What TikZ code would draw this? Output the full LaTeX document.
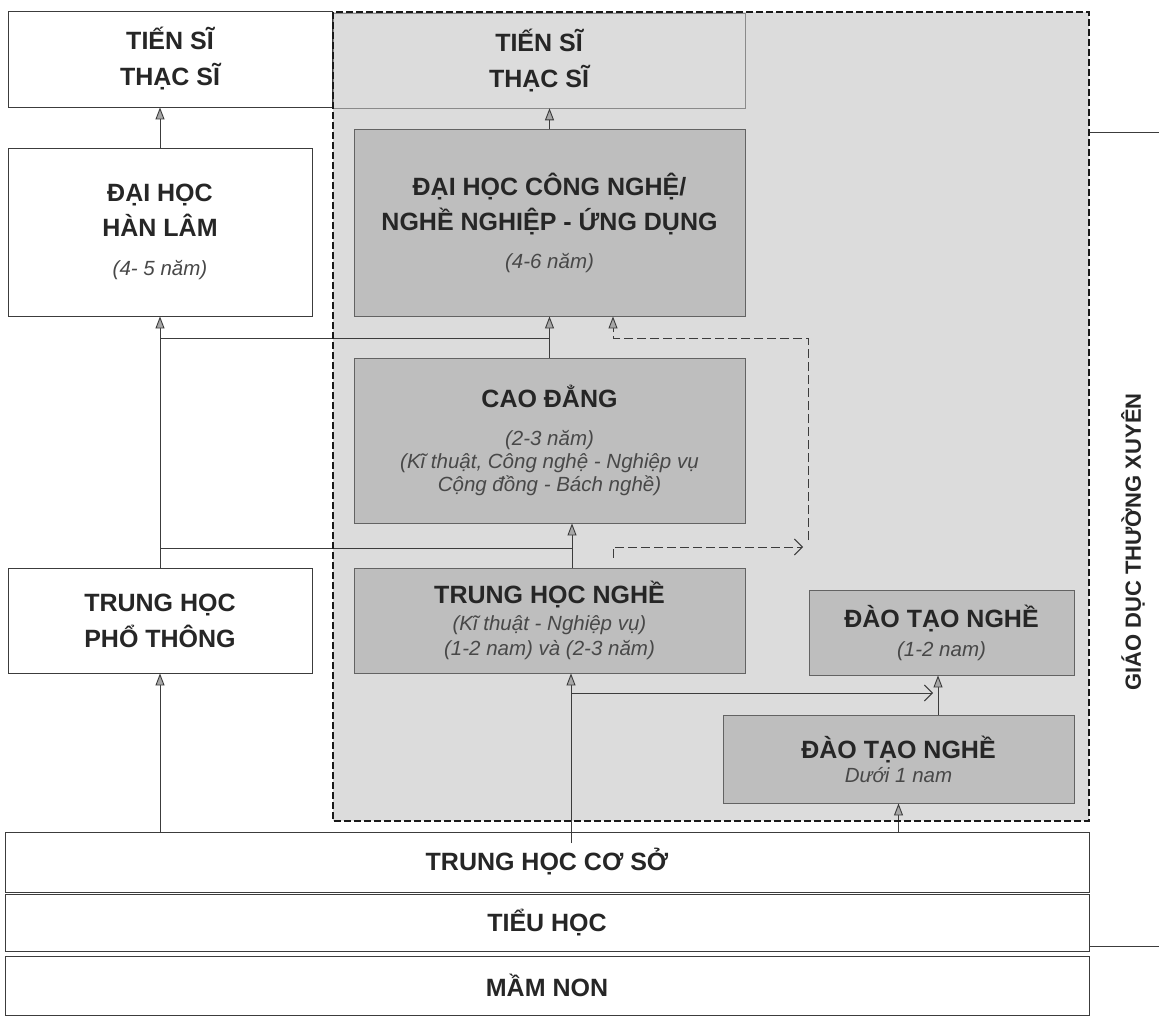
\documentclass[tikz,border=0pt]{standalone}
\usepackage{fontspec}
\setmainfont{Liberation Sans}
\usetikzlibrary{arrows.meta}
\definecolor{linegray}{HTML}{3C3C3C}
\definecolor{textgray}{HTML}{262626}
\definecolor{notegray}{HTML}{484848}
\definecolor{zonegray}{HTML}{DCDCDC}
\definecolor{boxgray}{HTML}{BEBEBE}
\newcommand{\lvl}{\fontsize{25}{35}\selectfont\bfseries}
\newcommand{\yrs}{\fontsize{20.5}{23}\selectfont\mdseries\itshape\color{notegray}}

\begin{document}
\begin{tikzpicture}[x=1pt, y=-1pt, line width=0.9pt,
  level/.style={draw=linegray, fill=white, align=center, inner sep=0pt, text=textgray, font=\lvl},
  voc/.style={level, fill=boxgray, draw=linegray!80},
  uparr/.style={linegray, -{Triangle[length=12pt,width=9pt,fill=linegray!45]}},
  barb/.style={linegray, -{Straight Barb[length=8pt,width=16pt]}},
  dashbarb/.style={barb, dash pattern=on 9pt off 4pt},
  zone/.style={draw=black!90, line width=1.5pt, dash pattern=on 7pt off 3pt}]
  \useasboundingbox (0,0) rectangle (1159,1016);

  \fill[zonegray] (333,12) rectangle (1089,821);

  \node[level, minimum width=324pt, minimum height=96pt] (tsL) at (170,59) {TIẾN SĨ\\[1pt]THẠC SĨ};
  \node[level, minimum width=304pt, minimum height=168pt] (dhhl) at (160,232) {ĐẠI HỌC\\HÀN LÂM\\[4pt]{\yrs (4- 5 năm)}};
  \node[level, minimum width=304pt, minimum height=105pt] (ptth) at (160,620.5) {TRUNG HỌC\\[1pt]PHỔ THÔNG};

  \node[level, fill=zonegray, draw=linegray!60, line width=0.6pt, minimum width=412pt, minimum height=95pt] (tsR) at (539,60.5) {TIẾN SĨ\\[1pt]THẠC SĨ};
  \node[voc, minimum width=391pt, minimum height=187pt] (dhcn) at (549.5,222.5) {ĐẠI HỌC CÔNG NGHỆ/\\NGHỀ NGHIỆP - ỨNG DỤNG\\[3pt]{\yrs (4-6 năm)}};
  \node[voc, minimum width=391pt, minimum height=165pt] (cd) at (549.5,440.5) {CAO ĐẲNG\\[3pt]{\yrs (2-3 năm)}\\[-12pt]{\yrs (Kĩ thuật, Công nghệ - Nghiệp vụ}\\[-12pt]{\yrs Cộng đồng - Bách nghề)}};
  \node[voc, minimum width=391pt, minimum height=105pt] (thn) at (549.5,620.5) {TRUNG HỌC NGHỀ\\[-8pt]{\yrs (Kĩ thuật - Nghiệp vụ)}\\[-10pt]{\yrs (1-2 nam) và (2-3 năm)}};
  \node[voc, minimum width=265pt, minimum height=85pt] (dtn12) at (941.5,632.5) {ĐÀO TẠO NGHỀ\\[-6pt]{\yrs (1-2 nam)}};
  \node[voc, minimum width=351pt, minimum height=88pt] (dtn1) at (898.5,759) {ĐÀO TẠO NGHỀ\\[-11pt]{\yrs Dưới 1 nam}};

  \node[level, minimum width=1084pt, minimum height=60pt] (thcs) at (547,862) {TRUNG HỌC CƠ SỞ};
  \node[level, minimum width=1084pt, minimum height=57pt] (tieuhoc) at (547,922.5) {TIỂU HỌC};
  \node[level, minimum width=1084pt, minimum height=59pt] (mamnon) at (547,985.5) {MẦM NON};

  \node[rotate=90, font=\fontsize{22}{26}\selectfont\bfseries, text=textgray] (gdtx) at (1133,542) {GIÁO DỤC THƯỜNG XUYÊN};
  \draw[linegray, line width=0.7pt] (1159,132) -- (1089,132) (1089,946) -- (1159,946);

  \coordinate (hl1) at (160,338);
  \coordinate (hl2) at (160,548);
  \coordinate (thnup) at (572,548);
  \coordinate (dcorner) at (808,547);
  \coordinate (thcsup) at (571,843);
  \coordinate (split) at (571,693);
  \coordinate (splitend) at (933,693);

  \draw[uparr] (dhhl.north) -- (dhhl.north |- tsL.south);
  \draw[uparr] (thcs.north -| ptth.south) -- (ptth.south);
  \draw[uparr] (ptth.north) -- (dhhl.south);
  \draw[linegray] (hl1) -- (hl1 -| cd.north);
  \draw[linegray] (hl2) -- (thnup);
  \draw[uparr] (cd.north) -- (dhcn.south);
  \draw[uparr] (dhcn.north) -- (dhcn.north |- tsR.south);
  \draw[uparr] (thnup |- thn.north) -- (thnup |- cd.south);

  \draw[dashbarb] ([xshift=63.5pt,yshift=10pt]thn.north) |- ([xshift=-5pt]dcorner);
  \draw[dashbarb, -{Triangle[length=12pt,width=9pt,fill=linegray!45]}] ([yshift=7pt]dcorner) -- (dcorner |- hl1) -| ([xshift=63.5pt]dhcn.south);

  \draw[uparr] (thcsup) -- (thcsup |- thn.south);
  \draw[barb] (split) -- (splitend);
  \draw[uparr] ([xshift=-3.5pt]dtn12.south |- dtn1.north) -- ([xshift=-3.5pt]dtn12.south);
  \draw[uparr] (thcs.north -| dtn1.south) -- (dtn1.south);

  \draw[zone] (333,12) rectangle (1089,821);
\end{tikzpicture}
\end{document}
